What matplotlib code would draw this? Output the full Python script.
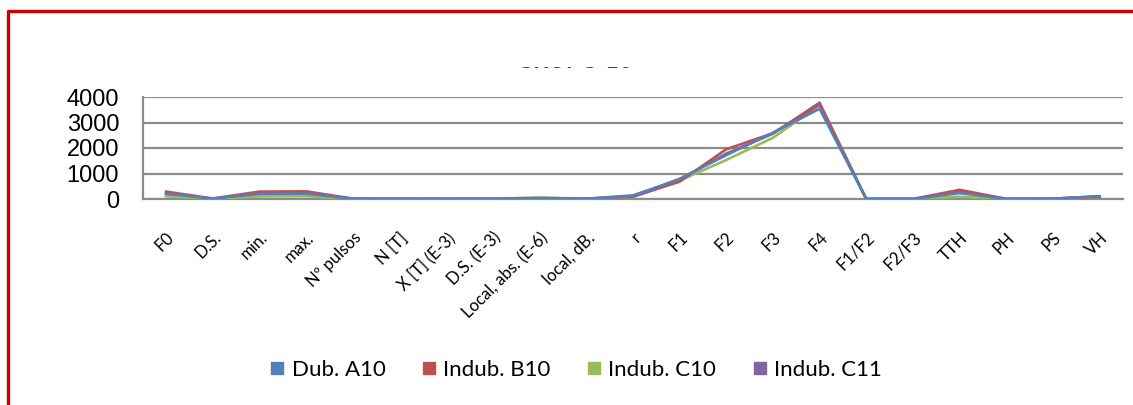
import matplotlib
matplotlib.use("Agg")
import matplotlib.pyplot as plt
from matplotlib.lines import Line2D
from matplotlib.patches import Rectangle

categorias = ['F0', 'D.S.', 'min.', 'max.', 'Nº pulsos', 'N [T]', 'X [T] (E-3)',
              'D.S. (E-3)', 'Local, abs. (E-6)', 'local, dB.', 'r', 'F1', 'F2',
              'F3', 'F4', 'F1/F2', 'F2/F3', 'TTH', 'PH', 'PS', 'VH']

dub_a10 = [210, 15, 200, 210, 12, 5, 3, 5, 30, 10, 110, 790, 1720, 2600, 3540,
           1, 1, 230, 5, 10, 110]
indub_b10 = [290, 20, 290, 300, 15, 5, 3, 10, 25, 10, 90, 680, 1950, 2580, 3700,
             1, 1, 360, 5, 15, 90]
indub_c10 = [110, 10, 100, 110, 8, 5, 3, 10, 60, 10, 80, 720, 1530, 2400, 3680,
             1, 1, 90, 5, 10, 90]
indub_c11 = [180, 15, 220, 230, 12, 5, 3, 10, 40, 10, 140, 760, 1780, 2560, 3780,
             1, 1, 290, 5, 10, 100]

series = [('Dub. A10', dub_a10, '#4F81BD'),
          ('Indub. B10', indub_b10, '#C0504D'),
          ('Indub. C10', indub_c10, '#9BBB59'),
          ('Indub. C11', indub_c11, '#8064A2')]

yticks = [0, 1000, 2000, 3000, 4000]

W, H = 1133, 405
fig = plt.figure(figsize=(W / 100, H / 100), dpi=100)
ax = fig.add_axes([142.7 / W, 1 - 199 / H, (1123 - 142.7) / W, (199 - 97) / H])

x = list(range(len(categorias)))
# blue goes on top, so draw the others first
for nombre, vals, color in reversed(series):
    ax.plot(x, vals, color=color, lw=1.9, solid_joinstyle='round', zorder=3)

ax.set_xlim(-0.5, len(categorias) - 0.5)
ax.set_ylim(0, 4000)
ax.set_yticks(yticks)
ax.set_yticklabels([str(v) for v in yticks], fontsize=17, family='Liberation Sans')
ax.set_xticks(x)
ax.set_xticklabels(categorias, rotation=45, ha='right', va='top',
                   rotation_mode='anchor', fontsize=12,
                   family=['Lato', 'DejaVu Sans'])
ax.tick_params(axis='both', length=0)
ax.tick_params(axis='y', pad=17)
ax.tick_params(axis='x', pad=22)
ax.grid(axis='y', color='#8C8C8C', lw=1.6, zorder=1)
for s in ['top', 'right']:
    ax.spines[s].set_visible(False)
for s in ['left', 'bottom']:
    ax.spines[s].set_color('#8C8C8C')
    ax.spines[s].set_linewidth(1.6)

# legend below the plot
handles = [Line2D([], [], ls='none', marker='s', ms=8, color=c, mec=c)
           for _, _, c in series]
fig.legend(handles, [n for n, _, _ in series], loc='center',
           bbox_to_anchor=(0.508, 1 - 370 / H), ncol=4, frameon=False,
           prop={'family': ['Lato', 'DejaVu Sans'], 'size': 16},
           handlelength=0.7, handletextpad=0.3, columnspacing=1.6)

# title, almost all of it hidden by a white strip
fig.text(0.507, 1 - 68 / H, 'GRUPO 10', ha='center', va='baseline',
         fontsize=17, fontweight='bold', family='Lato', color='#404040')
fig.add_artist(Rectangle((400 / W, 1 - 66.5 / H), 350 / W, 46 / H,
                         transform=fig.transFigure, facecolor='white',
                         edgecolor='none', zorder=5))

# red frame
fig.add_artist(Line2D([8 / W, 8 / W, 1], [0, 1 - 11 / H, 1 - 11 / H],
                      transform=fig.transFigure, color='#CC0000', lw=2.4,
                      zorder=6))

fig.savefig('out.png', dpi=100)
